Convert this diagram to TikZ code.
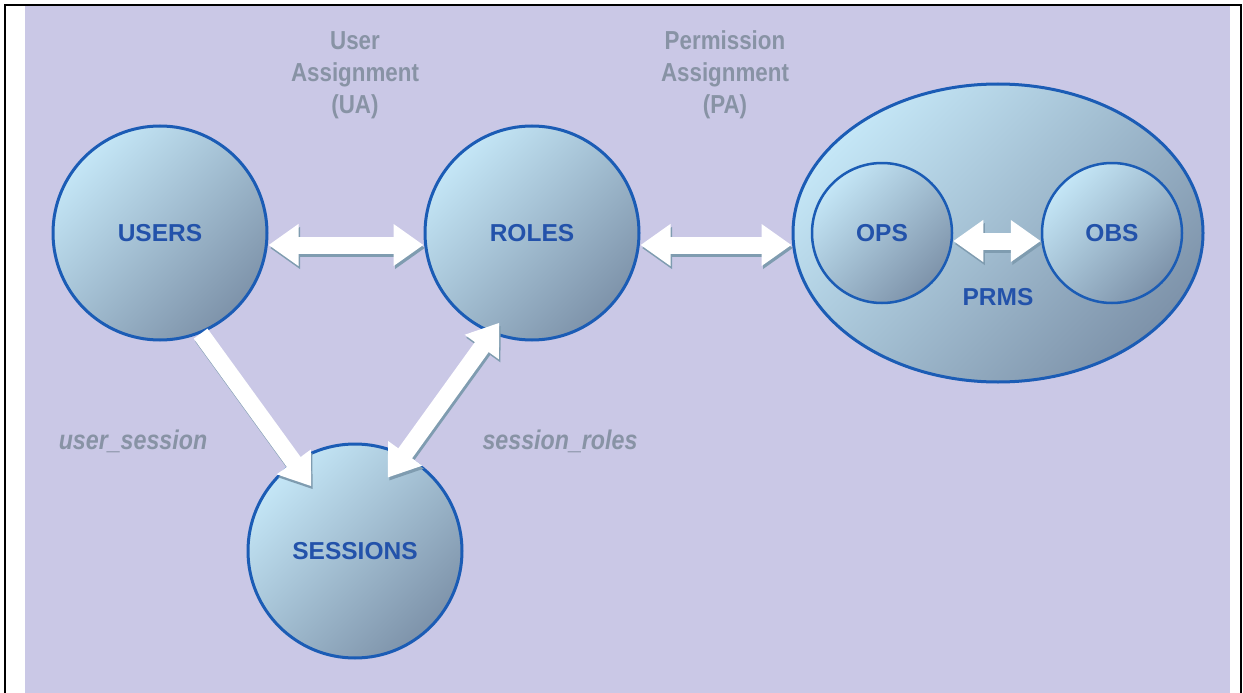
\documentclass[tikz,border=0pt]{standalone}
\usepackage{fontspec}
\setmainfont{Liberation Sans}
\newfontfamily\condfont[FakeStretch=0.86]{Liberation Sans}
\usetikzlibrary{shapes.geometric,arrows.meta,calc}
\definecolor{bg}{HTML}{CAC8E6}
\definecolor{edgeblue}{HTML}{1B5CB5}
\definecolor{textblue}{HTML}{2352AA}
\definecolor{balltop}{HTML}{C4E6F6}
\definecolor{ballbot}{HTML}{7E93AA}
\definecolor{labelgrey}{HTML}{8893A5}
\definecolor{shadowc}{HTML}{7F9CB0}
\begin{document}
\begin{tikzpicture}[x=1pt,y=-1pt,
  ball/.style={circle, draw=edgeblue, line width=3pt, minimum size=214pt, inner sep=0pt,
    top color=balltop, bottom color=ballbot, shading angle=45,
    font=\fontsize{24.5}{28}\selectfont\bfseries, text=textblue},
  smallball/.style={ball, line width=2.5pt, minimum size=140pt},
  prmsball/.style={ellipse, draw=edgeblue, line width=3pt, minimum width=410pt, minimum height=298pt,
    inner sep=0pt, top color=balltop, bottom color=ballbot, shading angle=45},
  bluetext/.style={font=\fontsize{24.5}{28}\selectfont\bfseries, text=textblue},
  greylabel/.style={font=\condfont\fontsize{26}{32}\selectfont\bfseries, text=labelgrey, align=center},
  itlabel/.style={font=\condfont\fontsize{27}{30}\selectfont\bfseries\itshape, text=labelgrey},
  twohead/.style={line width=17pt, {Triangle[width=40pt,length=30pt]}-{Triangle[width=40pt,length=30pt]}},
  onehead/.style={line width=17pt, -{Triangle[width=40pt,length=30pt]}},
  arrowfront/.style={draw=white}
]
\useasboundingbox (0,0) rectangle (1243,693);
\fill[bg] (25,6) rectangle (1230,693);
\draw[black, line width=2pt] (5,693) -- (5,5) -- (1241,5) -- (1241,693);

% main nodes
\node[ball] (users) at (160,233) {USERS};
\node[ball] (roles) at (532,233) {ROLES};
\node[ball] (sessions) at (355,551) {SESSIONS};
\node[prmsball] (prms) at (998,233) {};
\node[smallball] (ops) at (882,233) {OPS};
\node[smallball] (obs) at (1112,233) {OBS};
\node[bluetext] (prmslabel) at (998,297) {PRMS};

% labels
\node[greylabel] (ualabel) at (355,75) {User\\Assignment\\(UA)};
\node[greylabel] (palabel) at (725,75) {Permission\\Assignment\\(PA)};
\node[itlabel] (uslabel) at (133,441) {user\_session};
\node[itlabel] (srlabel) at (560,441) {session\_roles};

% coordinates for arrow ends
\coordinate (ua1) at ([yshift=-12pt]users.east);
\coordinate (ua2) at ([yshift=-12pt]roles.west);
\coordinate (pa1) at ([yshift=-12pt]roles.east);
\coordinate (pa2) at ([yshift=-12pt]prms.west);
\coordinate (op1) at ([yshift=-8pt]ops.east);
\coordinate (op2) at ([yshift=-8pt]obs.west);
\coordinate (us1) at (users.-68);
\coordinate (us2) at ($(sessions.center)!0.72!(sessions.124)$);
\coordinate (sr1) at ($(roles.center)!0.88!(roles.250)$);
\coordinate (sr2) at ($(sessions.center)!0.74!(sessions.66)$);

% shadows
\begin{scope}[transform canvas={xshift=1.5pt,yshift=-3pt}]
\draw[twohead, draw=shadowc] (ua1) -- (ua2);
\draw[twohead, draw=shadowc] (pa1) -- (pa2);
\draw[twohead, draw=shadowc] (op1) -- (op2);
\draw[onehead, draw=shadowc] (us1) -- (us2);
\draw[twohead, draw=shadowc] (sr1) -- (sr2);
\end{scope}
% arrows
\draw[twohead, arrowfront] (ua1) -- (ua2);
\draw[twohead, arrowfront] (pa1) -- (pa2);
\draw[twohead, arrowfront] (op1) -- (op2);
\draw[onehead, arrowfront] (us1) -- (us2);
\draw[twohead, arrowfront] (sr1) -- (sr2);
\end{tikzpicture}
\end{document}
